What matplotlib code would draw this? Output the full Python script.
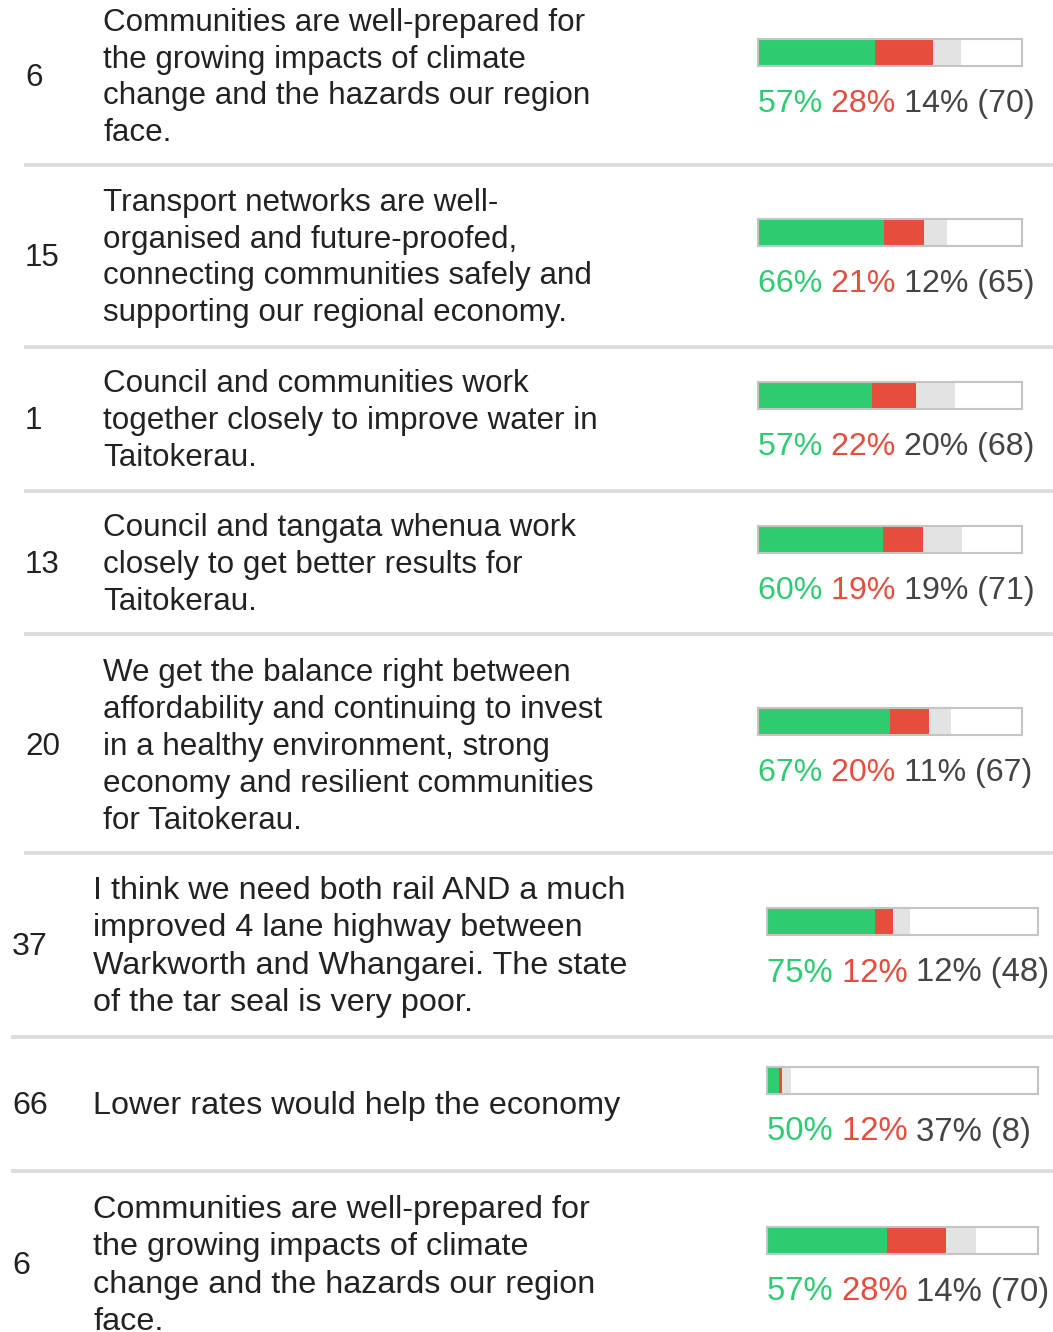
import matplotlib
matplotlib.use('Agg')
import matplotlib.pyplot as plt

plt.rcParams['font.family'] = ['Liberation Sans', 'DejaVu Sans']

# survey rows: id, statement lines, agree / disagree / neutral percent, responses
ids = [6, 15, 1, 13, 20, 37, 66, 6]
statements = [
    ["Communities are well-prepared for", "the growing impacts of climate",
     "change and the hazards our region", "face."],
    ["Transport networks are well-", "organised and future-proofed,",
     "connecting communities safely and", "supporting our regional economy."],
    ["Council and communities work", "together closely to improve water in",
     "Taitokerau."],
    ["Council and tangata whenua work", "closely to get better results for",
     "Taitokerau."],
    ["We get the balance right between", "affordability and continuing to invest",
     "in a healthy environment, strong", "economy and resilient communities",
     "for Taitokerau."],
    ["I think we need both rail AND a much", "improved 4 lane highway between",
     "Warkworth and Whangarei. The state", "of the tar seal is very poor."],
    ["Lower rates would help the economy"],
    ["Communities are well-prepared for", "the growing impacts of climate",
     "change and the hazards our region", "face."],
]
agree = [57, 66, 57, 60, 67, 75, 50, 57]
disagree = [28, 21, 22, 19, 20, 12, 12, 28]
neutral = [14, 12, 20, 19, 11, 12, 37, 14]
counts = [70, 65, 68, 71, 67, 48, 8, 70]
max_count = 90

GREEN = '#2ecc71'
RED = '#e74c3c'
GREY = '#e3e3e3'
TEXT = '#222222'

W, H = 1053, 1332
row_y = [75, 255, 418, 562, 744, 944, 1103, 1263]
seps = [165, 347, 491, 634, 853, 1037, 1171]
sep_x0 = [24, 24, 24, 24, 24, 11, 11]
# two layout groups (the lower rows are slightly shifted / bigger)
group = [0, 0, 0, 0, 0, 1, 1, 1]
num_x = [25, 12]
txt_x = [103, 93]
bar_x = [(758, 1022), (767, 1038)]
fsize = [22.6, 23.3]
pct_size = [23.1, 23.7]
line_h = [36.8, 37.5]
dy = 3

fig = plt.figure(figsize=(W / 100, H / 100), dpi=100)
ax = fig.add_axes([0, 0, 1, 1])
ax.set_xlim(0, W)
ax.set_ylim(H, 0)
ax.axis('off')

for y, x0 in zip(seps, sep_x0):
    ax.plot([x0, W], [y, y], color='#dddddd', lw=2.9, solid_capstyle='butt')


def pct_line(x, y, parts, fs):
    prev = ax.text(x, y, parts[0][0], color=parts[0][1], fontsize=fs,
                   va='center', ha='left')
    for s, c in parts[1:]:
        prev = ax.annotate(s, xy=(1, 0), xycoords=prev, xytext=(0, 0),
                           textcoords='offset points', color=c, fontsize=fs,
                           va='bottom', ha='left')


for i in range(len(ids)):
    g = group[i]
    yc = row_y[i]
    fs = fsize[g]
    ax.text(num_x[g], yc + dy, str(ids[i]), fontsize=fs, color=TEXT, va='center')
    lines = statements[i]
    k = len(lines)
    for j, ln in enumerate(lines):
        ax.text(txt_x[g], yc + dy + (j - (k - 1) / 2) * line_h[g], ln,
                fontsize=fs, color=TEXT, va='center')

    # stacked bar in its own little axes, scaled to responses
    bx0, bx1 = bar_x[g]
    bh = 27
    by = yc - 23
    bax = fig.add_axes([bx0 / W, 1 - (by + bh / 2) / H, (bx1 - bx0) / W, bh / H])
    n = counts[i]
    segs = [agree[i] * n / 100, disagree[i] * n / 100, neutral[i] * n / 100]
    left = 0
    for v, c in zip(segs, [GREEN, RED, GREY]):
        bax.barh(0, v, left=left, height=1, color=c, linewidth=0)
        left += v
    bax.set_xlim(0, max_count)
    bax.set_ylim(-0.5, 0.5)
    bax.set_xticks([])
    bax.set_yticks([])
    for sp in bax.spines.values():
        sp.set_color('#c4c4c4')
        sp.set_linewidth(1.5)

    pct_line(bx0, yc + 26 + dy, [
        ("%d%% " % agree[i], GREEN),
        ("%d%% " % disagree[i], RED),
        ("%d%% (%d)" % (neutral[i], counts[i]), '#444444'),
    ], pct_size[g])

fig.savefig('out.png', dpi=100)
